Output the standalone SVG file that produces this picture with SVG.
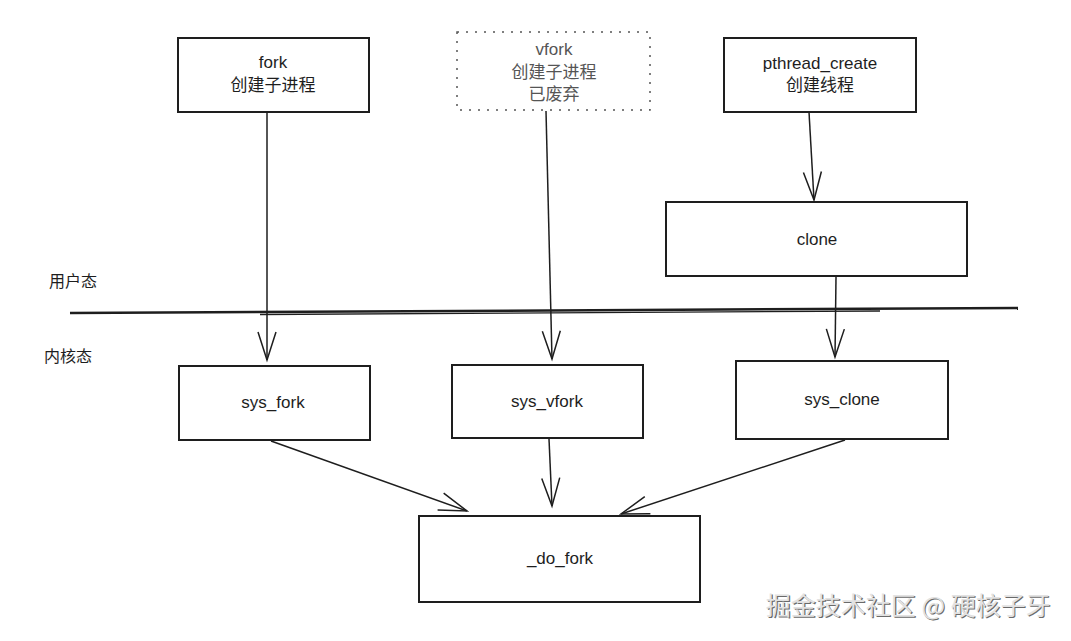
<svg xmlns="http://www.w3.org/2000/svg" width="1071" height="641" viewBox="0 0 1071 641">
<style>
  .box { fill: #ffffff; stroke: #1e1e1e; stroke-width: 2; }
  .dashed { fill: #ffffff; stroke: #555555; stroke-width: 1.5; stroke-dasharray: 2 7; }
  .t { font-family: "Liberation Sans", "Noto Sans CJK SC", sans-serif; font-size: 17px; fill: #1e1e1e; text-anchor: middle; }
  .gray { fill: #555555; }
  .lbl { font-family: "Noto Sans CJK SC", sans-serif; font-size: 16px; fill: #1e1e1e; }
  .edge { fill: none; stroke: #1e1e1e; stroke-width: 1.5; }
  .wm { font-family: "Noto Sans CJK SC", sans-serif; font-size: 25px; }
</style>
<defs>
  <marker id="arrow" markerUnits="userSpaceOnUse" markerWidth="40" markerHeight="30" viewBox="-30 -15 32 30" refX="0" refY="0" orient="auto">
    <path d="M -28 -9 L 0 0 L -28 9" fill="none" stroke="#1e1e1e" stroke-width="1.5"/>
  </marker>
</defs>
<rect width="1071" height="641" fill="#ffffff"/>

<g id="separator">
  <path d="M 70 313 L 1018 308" fill="none" stroke="#1e1e1e" stroke-width="2.5"/>
  <path d="M 260 314.5 L 880 311" fill="none" stroke="#1e1e1e" stroke-width="1.3"/>
</g>
<g id="label-user"><text class="lbl" x="49" y="287">用户态</text></g>
<g id="label-kernel"><text class="lbl" x="44" y="362">内核态</text></g>

<g id="node-fork">
  <rect class="box" x="178" y="38" width="191" height="74"/>
  <text class="t" x="273" y="68">fork</text>
  <text class="t" x="273" y="91">创建子进程</text>
</g>
<g id="node-vfork">
  <rect class="dashed" x="457" y="32" width="193" height="78"/>
  <text class="t gray" x="554" y="55">vfork</text>
  <text class="t gray" x="554" y="78">创建子进程</text>
  <text class="t gray" x="554" y="100">已废弃</text>
</g>
<g id="node-pthread">
  <rect class="box" x="724" y="38" width="192" height="74"/>
  <text class="t" x="820" y="69">pthread_create</text>
  <text class="t" x="820" y="91">创建线程</text>
</g>
<g id="node-clone">
  <rect class="box" x="666" y="202" width="301" height="74"/>
  <text class="t" x="817" y="245">clone</text>
</g>
<g id="node-sys_fork">
  <rect class="box" x="179" y="366" width="191" height="74"/>
  <text class="t" x="273" y="408">sys_fork</text>
</g>
<g id="node-sys_vfork">
  <rect class="box" x="452" y="365" width="191" height="73"/>
  <text class="t" x="547" y="407">sys_vfork</text>
</g>
<g id="node-sys_clone">
  <rect class="box" x="736" y="361" width="212" height="78"/>
  <text class="t" x="842" y="405">sys_clone</text>
</g>
<g id="node-do_fork">
  <rect class="box" x="419" y="516" width="281" height="86"/>
  <text class="t" x="560" y="564">_do_fork</text>
</g>

<g id="connectors">
  <path class="edge" d="M 267 112 L 267 360" marker-end="url(#arrow)"/>
  <path class="edge" d="M 546 111 L 552 359" marker-end="url(#arrow)"/>
  <path class="edge" d="M 809 112 L 814 200" marker-end="url(#arrow)"/>
  <path class="edge" d="M 836 277 L 835 357" marker-end="url(#arrow)"/>
  <path class="edge" d="M 271 441 L 467 511" marker-end="url(#arrow)"/>
  <path class="edge" d="M 549 439 L 552 506" marker-end="url(#arrow)"/>
  <path class="edge" d="M 845 440 L 621 514" marker-end="url(#arrow)"/>
</g>

<g id="watermark">
  <text class="wm" x="767" y="616" fill="#6a6a6a">掘金技术社区 @ 硬核子牙</text>
  <text class="wm" x="765.8" y="614.8" fill="#e2e2e2">掘金技术社区 @ 硬核子牙</text>
</g>
</svg>
